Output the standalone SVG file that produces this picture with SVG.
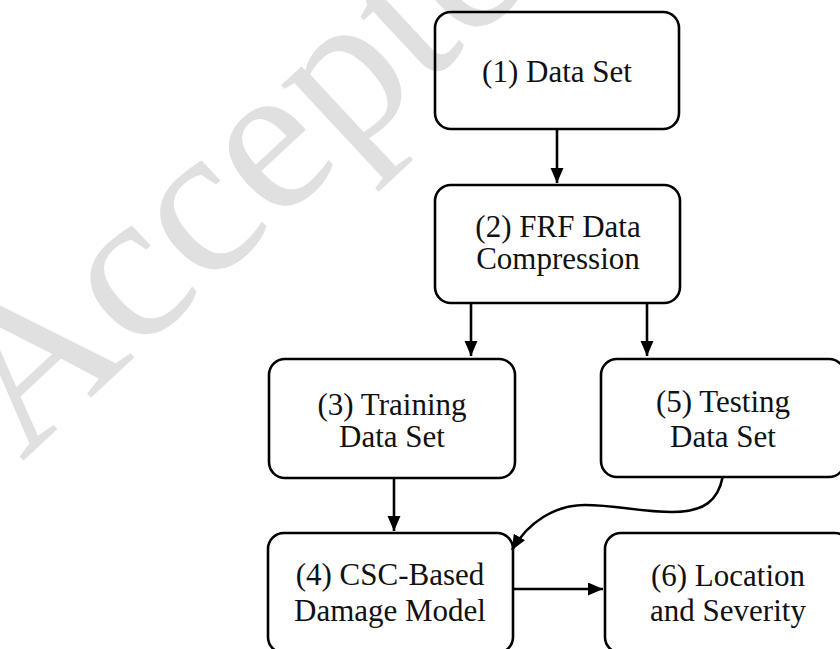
<svg xmlns="http://www.w3.org/2000/svg" width="840" height="649" viewBox="0 0 840 649">
  <style>
    .box { fill: none; stroke: #000; stroke-width: 2.6; }
    .lbl { font-family: "Liberation Serif", "Times New Roman", serif; font-size: 31px; fill: #111; text-anchor: middle; }
    .edge { fill: none; stroke: #000; stroke-width: 2.6; }
    .wm { font-family: "Liberation Serif", "Times New Roman", serif; font-size: 215px; fill: #e0e0e0; }
  </style>
  <defs>
    <marker id="arrow" markerUnits="userSpaceOnUse" markerWidth="16" markerHeight="14" refX="15" refY="6.5" orient="auto">
      <path d="M0,0 L15,6.5 L0,13 z" fill="#000"/>
    </marker>
  </defs>
  <rect x="0" y="0" width="840" height="649" fill="#fff"/>
  <text class="wm" transform="translate(22,462) rotate(-43)">Accepted</text>

  <g id="n1">
    <rect class="box" x="435" y="12" width="244" height="117" rx="16"/>
    <text class="lbl" x="557" y="82">(1) Data Set</text>
  </g>
  <g id="n2">
    <rect class="box" x="435" y="185" width="245" height="118" rx="16"/>
    <text class="lbl" x="558" y="237">(2) FRF Data</text>
    <text class="lbl" x="558" y="269">Compression</text>
  </g>
  <g id="n3">
    <rect class="box" x="269" y="359" width="246" height="119" rx="16"/>
    <text class="lbl" x="392" y="415">(3) Training</text>
    <text class="lbl" x="392" y="447">Data Set</text>
  </g>
  <g id="n5">
    <rect class="box" x="601" y="359" width="244" height="118" rx="16"/>
    <text class="lbl" x="723" y="412">(5) Testing</text>
    <text class="lbl" x="723" y="447">Data Set</text>
  </g>
  <g id="n4">
    <rect class="box" x="268" y="533" width="245" height="120" rx="16"/>
    <text class="lbl" x="390" y="585">(4) CSC-Based</text>
    <text class="lbl" x="390" y="621">Damage Model</text>
  </g>
  <g id="n6">
    <rect class="box" x="605" y="533" width="246" height="120" rx="16"/>
    <text class="lbl" x="728" y="586">(6) Location</text>
    <text class="lbl" x="728" y="621">and Severity</text>
  </g>

  <g id="connectors">
    <line class="edge" x1="557" y1="129" x2="557" y2="183" marker-end="url(#arrow)"/>
    <line class="edge" x1="471" y1="303" x2="471" y2="356" marker-end="url(#arrow)"/>
    <line class="edge" x1="647" y1="303" x2="647" y2="356" marker-end="url(#arrow)"/>
    <line class="edge" x1="394" y1="478" x2="394" y2="531" marker-end="url(#arrow)"/>
    <line class="edge" x1="513" y1="589" x2="603" y2="589" marker-end="url(#arrow)"/>
    <path class="edge" d="M722.7,477 C718,500 705,512 672,512 C642,512 615,505 585,505 C555,505 528,522 512,550" marker-end="url(#arrow)"/>
  </g>
</svg>
